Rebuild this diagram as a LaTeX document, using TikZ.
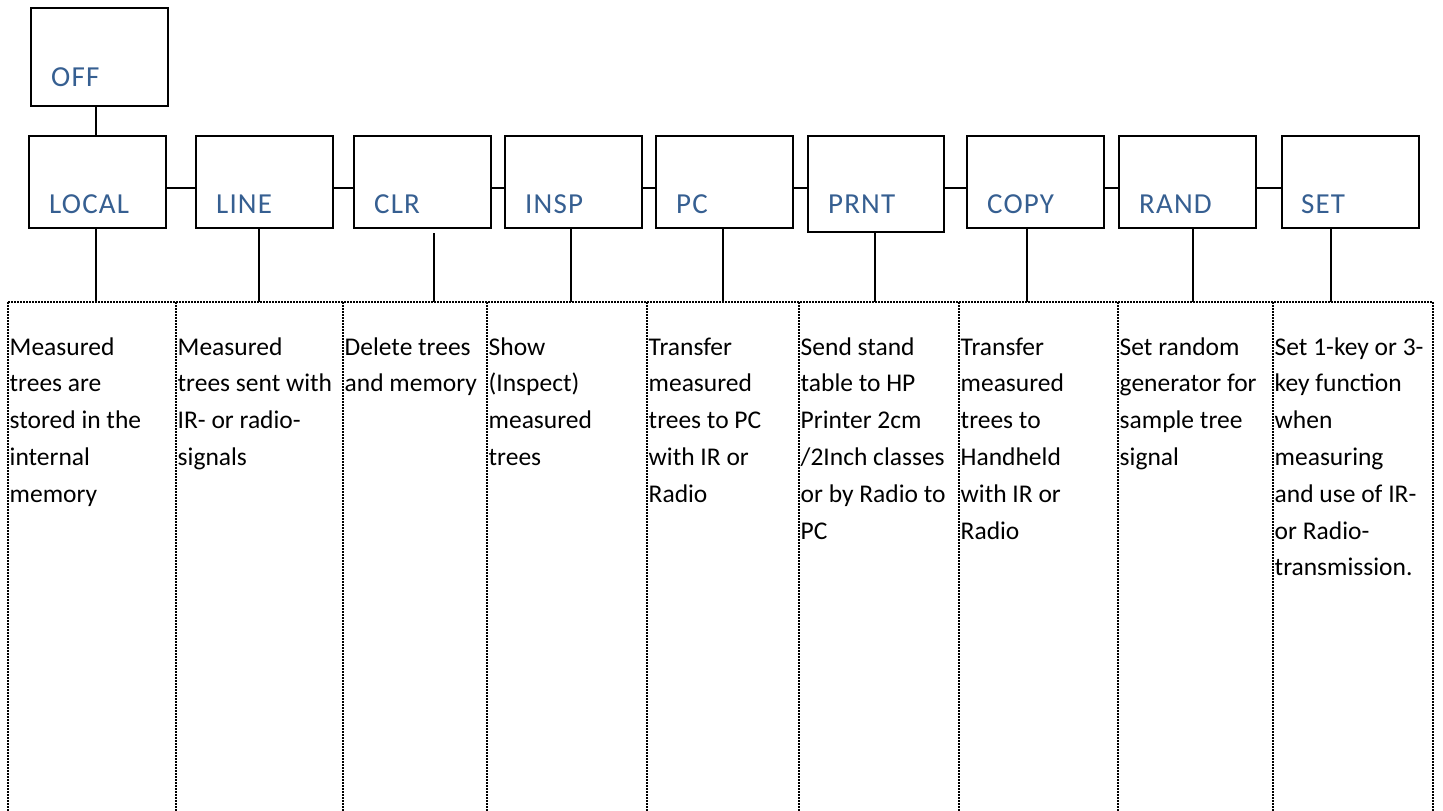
\documentclass[tikz,border=0pt]{standalone}
\usepackage{fontspec}
\setmainfont{Carlito}
\newfontfamily\labfont[LetterSpace=4]{Carlito}
\definecolor{labblue}{RGB}{54,95,145}
\begin{document}
\begin{tikzpicture}[x=1pt,y=-1pt,
  box/.style={draw, line width=2pt, rectangle, inner sep=0pt, anchor=north west, minimum width=137pt, minimum height=92pt},
  lab/.style={font=\labfont\fontsize{29}{29}\selectfont, text=labblue, anchor=base west, inner sep=0pt},
  desc/.style={font=\fontsize{25.5}{36.8}\selectfont, align=left, anchor=north west, inner sep=0pt},
  conn/.style={line width=2pt},
  col/.style={line width=1.6pt, dash pattern=on 1.5pt off 1.5pt}]
\useasboundingbox (0,0) rectangle (1443,811);
% boxes
\node[box, minimum height=98pt] (off) at (30,7) {};
\node[box] (local) at (28,135) {};
\node[box] (line) at (195,135) {};
\node[box] (clr) at (353,135) {};
\node[box] (insp) at (504,135) {};
\node[box] (pc) at (655,135) {};
\node[box, minimum width=136pt, minimum height=96pt] (prnt) at (807,135) {};
\node[box] (copy) at (966,135) {};
\node[box] (rand) at (1118,135) {};
\node[box] (set) at (1281,135) {};
% labels
\node[lab] (loff) at (51,86) {OFF};
\node[lab] (llocal) at (49,213) {LOCAL};
\node[lab] (lline) at (216,213) {LINE};
\node[lab] (lclr) at (374,213) {CLR};
\node[lab] (linsp) at (525,213) {INSP};
\node[lab] (lpc) at (676,213) {PC};
\node[lab] (lprnt) at (828,213) {PRNT};
\node[lab] (lcopy) at (987,213) {COPY};
\node[lab] (lrand) at (1139,213) {RAND};
\node[lab] (lset) at (1301,213) {SET};
% helper coordinates
\coordinate (hy) at (0,188);
\coordinate (ctop) at (0,302);
\coordinate (v0) at (96,0);
\coordinate (v1) at (96,0);
\coordinate (v2) at (259,0);
\coordinate (v3) at (434,0);
\coordinate (v4) at (571,0);
\coordinate (v5) at (723,0);
\coordinate (v6) at (875,0);
\coordinate (v7) at (1027,0);
\coordinate (v8) at (1193,0);
\coordinate (v9) at (1331,0);
% connectors
\draw[conn] (v0 |- off.south) -- (v0 |- local.north);
\draw[conn] (local.east |- hy) -- (line.west |- hy);
\draw[conn] (line.east |- hy) -- (clr.west |- hy);
\draw[conn] (clr.east |- hy) -- (insp.west |- hy);
\draw[conn] (insp.east |- hy) -- (pc.west |- hy);
\draw[conn] (pc.east |- hy) -- (prnt.west |- hy);
\draw[conn] (prnt.east |- hy) -- (copy.west |- hy);
\draw[conn] (copy.east |- hy) -- (rand.west |- hy);
\draw[conn] (rand.east |- hy) -- (set.west |- hy);
\draw[conn] (v1 |- local.south) -- (v1 |- ctop);
\draw[conn] (v2 |- line.south) -- (v2 |- ctop);
\draw[conn] ([yshift=-4pt]v3 |- clr.south) -- (v3 |- ctop);
\draw[conn] (v4 |- insp.south) -- (v4 |- ctop);
\draw[conn] (v5 |- pc.south) -- (v5 |- ctop);
\draw[conn] (v6 |- prnt.south) -- (v6 |- ctop);
\draw[conn] (v7 |- copy.south) -- (v7 |- ctop);
\draw[conn] (v8 |- rand.south) -- (v8 |- ctop);
\draw[conn] (v9 |- set.south) -- (v9 |- ctop);
% dotted columns
\draw[col] (8,302) -- (1433,302);
\foreach \cx in {8,176,343,487,647,799,959,1118,1273,1433}
  \draw[col] (\cx,302) -- (\cx,811);
% descriptions (first baseline at y=355; strut height 0.7*36.8)
\node[desc] (d1) at (9.5,329.2) {\strut Measured\\trees are\\stored in the\\internal\\memory};
\node[desc] (d2) at (177.5,329.2) {\strut Measured\\trees sent with\\IR- or radio-\\signals};
\node[desc] (d3) at (344.5,329.2) {\strut Delete trees\\and memory};
\node[desc] (d4) at (488.5,329.2) {\strut Show\\(Inspect)\\measured\\trees};
\node[desc] (d5) at (648.5,329.2) {\strut Transfer\\measured\\trees to PC\\with IR or\\Radio};
\node[desc] (d6) at (800.5,329.2) {\strut Send stand\\table to HP\\Printer 2cm\\/2Inch classes\\or by Radio to\\PC};
\node[desc] (d7) at (960.5,329.2) {\strut Transfer\\measured\\trees to\\Handheld\\with IR or\\Radio};
\node[desc] (d8) at (1119.5,329.2) {\strut Set random\\generator for\\sample tree\\signal};
\node[desc] (d9) at (1274.5,329.2) {\strut Set 1-key or 3-\\key function\\when\\measuring\\and use of IR-\\or Radio-\\transmission.};
\end{tikzpicture}
\end{document}
